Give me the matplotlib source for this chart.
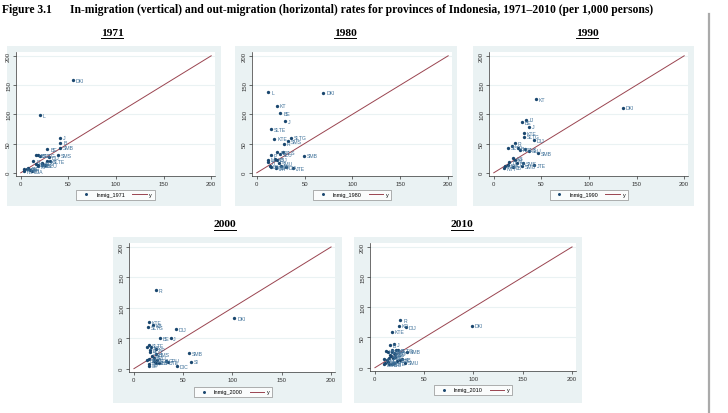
import matplotlib
matplotlib.use("Agg")
import matplotlib.pyplot as plt
from matplotlib.patches import Rectangle
from matplotlib.lines import Line2D

plt.rcParams['font.family'] = ['Liberation Sans', 'DejaVu Sans']

# ---------------- data (out-migration x, in-migration y, per 1,000) ----------------
years = ["1971", "1980", "1990", "2000", "2010"]

out_1971 = [54.9, 19.9, 41.6, 41.6, 41.6, 28.0, 39.5, 16.0, 17.8, 20.0, 30.0, 30.8, 13.3,
            15.7, 18.5, 22.0, 25.5, 17.8, 8.0, 7.0, 3.5, 3.1, 9.8, 11.5, 28.0, 22.5]
in_1971 = [159, 98.3, 60.2, 51.7, 43.2, 40.9, 30.1, 30.0, 30.0, 29.5, 26.7, 20.0, 19.3,
           14.8, 12.5, 13.6, 12.5, 10.8, 8.5, 6.8, 5.7, 2.8, 5.1, 3.4, 20.0, 16.0]
lab_1971 = ["DKI", "L", "J", "B", "SMB", "BE", "SMS", "KB", "KTE", "SLTG", "DIJ", "SLTE", "R",
            "SMU", "KS", "JB", "SLU", "M", "JTE", "BA", "NTB", "NTT", "JTI", "DIA", "KT", "SLS"]

out_1980 = [12.2, 69.7, 20.9, 24.7, 29.3, 15.0, 18.5, 35.5, 33.1, 28.2, 27.5, 21.6, 24.0, 14.6,
            49.1, 19.2, 20.9, 11.5, 12.2, 23.0, 13.6, 15.3, 20.6, 25.8, 30.7, 20.2, 38.0]
in_1980 = [138, 137, 114.8, 102.3, 88, 74.4, 58.5, 60.2, 54, 50, 35.8, 35.2, 32.4, 30.1,
           29.5, 23.3, 22.7, 22.7, 18.2, 17, 10.8, 10.2, 10.2, 10.8, 10.2, 7.4, 7.4]
lab_1980 = ["L", "DKI", "KT", "BE", "J", "SLTE", "KTE", "SLTG", "SMS", "R", "SLS", "KS", "SLU", "P",
            "SMB", "KB", "DIJ", "M", "TT", "SMU", "BA", "NTB", "NTT", "JB", "DIA", "JTI", "JTE"]

out_1990 = [44.6, 135.5, 34.1, 30.0, 37.3, 32.0, 32.0, 42.5, 22.3, 18.8, 14.6, 27.5, 32.8, 36.9,
            46.7, 20.6, 22.3, 16.4, 24.7, 31.0, 30.0, 42.5, 11.8, 11.1, 20.6, 15.3, 25.0]
in_1990 = [125.6, 111.4, 90.9, 86.4, 79.0, 67.6, 62.0, 56.3, 50.6, 46.6, 43.2, 39.8, 40.9, 38.0,
           34.1, 25.0, 22.2, 18.2, 16.5, 17.0, 11.9, 13.0, 11.9, 8.0, 10.2, 13.6, 42.0]
lab_1990 = ["KT", "DKI", "IJ", "BE", "J", "KTE", "SLTG", "DIJ", "R", "L", "SLTE", "KS", "SLS", "SLU",
            "SMB", "KB", "M", "TT", "BA", "SMS", "SMU", "JTE", "NTB", "NTT", "JB", "DIA", "B"]

out_2000 = [22.6, 102, 15.5, 14.2, 19.6, 42.6, 26, 37.2, 15.5, 13.5, 17.6, 15.9, 22, 16.2, 22.6,
            56, 57.8, 43.6, 20.3, 15.2, 12.8, 20.3, 22, 15.5, 15.5, 32.4, 34.1, 23.6, 18.0, 25.0]
in_2000 = [129.3, 83.4, 76.8, 68.5, 71.3, 64.6, 49.7, 49.7, 38.7, 35.9, 34.8, 30.4, 32.6, 27.6, 24.3,
           25.4, 11.6, 3.9, 18.2, 15.5, 13.8, 13.3, 9.9, 7.2, 5.0, 13.3, 11.0, 13.8, 20.0, 10.0]
lab_2000 = ["R", "DKI", "KTE", "SLTG", "KB", "DIJ", "BE", "J", "SLTE", "L", "KS", "B", "KP", "SLU", "BMS",
            "SMB", "SI", "DIC", "SLU", "G", "BA", "M", "SLS", "SU", "ST", "GPU", "JTE", "SLB", "MU", "NTT"]

out_2010 = [25.8, 24.7, 31.2, 17.3, 98.3, 19.0, 14.9, 11.2, 12.9, 16.9, 21.0, 23.7, 19.0, 32.5, 20.3,
            16.3, 14.2, 9.2, 12.2, 18.6, 22.4, 25.4, 10.2, 14.6, 17.0, 19.0, 30.2, 9.5, 15.0, 20.0,
            13.0, 27.0, 17.5]
in_2010 = [78.6, 69.6, 67.4, 59.6, 69.6, 38.4, 36.8, 27.9, 26.7, 29.0, 29.5, 29.0, 24.5, 26.7, 22.3,
           18.9, 16.7, 14.5, 12.3, 16.7, 11.7, 12.3, 7.8, 5.6, 5.6, 7.8, 8.4, 5.6, 20.5, 18.0,
           9.0, 14.0, 26.0]
lab_2010 = ["R", "KR", "DIJ", "KTE", "DKI", "J", "B", "KS", "SLTE", "L", "KB", "SLTG", "SLU", "SMB", "BA",
            "G", "SLS", "M", "MU", "IJ", "JB", "PB", "NTB", "NTT", "JTI", "JTE", "SMU", "DIA", "KP",
            "BT", "ST", "SB", "SMS"]

data = {
    "1971": (out_1971, in_1971, lab_1971),
    "1980": (out_1980, in_1980, lab_1980),
    "1990": (out_1990, in_1990, lab_1990),
    "2000": (out_2000, in_2000, lab_2000),
    "2010": (out_2010, in_2010, lab_2010),
}
diag = [0, 200]
xticks = [0, 50, 100, 150, 200]
yticks = [0, 50, 100, 150, 200]

# ---------------- layout (pixel boxes) ----------------
W, H = 728, 414
fig = plt.figure(figsize=(W / 100, H / 100), dpi=100)
fig.patch.set_facecolor("white")

def frac(x0, y0, x1, y1):
    return [x0 / W, 1 - y1 / H, (x1 - x0) / W, (y1 - y0) / H]

layout = {
    # outer bg box, plot box, title centre, legend centre
    "1971": ((7, 47, 221, 207), (16, 53, 215, 177), (112, 33), (115.5, 195.5)),
    "1980": ((235, 47, 457, 207), (252, 53, 452, 177), (345, 33), (352, 195.5)),
    "1990": ((473, 47, 694, 207), (489, 53, 688, 177), (587, 33), (588.7, 195.5)),
    "2000": ((113, 238, 342, 404), (129, 244, 335, 373), (225, 225), (233, 393)),
    "2010": ((354, 238, 582, 404), (370, 244, 576, 372), (462, 225), (473, 391)),
}

NAVY = "#1A476F"
MAROON = "#9A4450"
BG = "#EAF2F3"

title_texts = []
for yr in years:
    ob, pb, tc, lc = layout[yr]
    fig.add_artist(Rectangle((ob[0] / W, 1 - ob[3] / H), (ob[2] - ob[0]) / W, (ob[3] - ob[1]) / H,
                             transform=fig.transFigure, facecolor=BG, edgecolor="none", zorder=-10))
    ax = fig.add_axes(frac(*pb))
    ax.set_zorder(1)
    ax.set_facecolor("white")
    xs, ys, labs = data[yr]
    ax.set_xlim(-5, 204)
    ax.set_ylim(-5.5, 206.5)
    for g in [50, 100, 150, 200]:
        ax.axhline(g, color=BG, lw=0.8, zorder=0)
    ln, = ax.plot(diag, diag, color=MAROON, lw=0.7, zorder=2)
    mk, = ax.plot(xs, ys, "o", color=NAVY, ms=2.4, mec=NAVY, mew=0, lw=0, zorder=3)
    for x, y, t in zip(xs, ys, labs):
        ax.annotate(t, (x, y), xytext=(2.0, -0.2), textcoords="offset points",
                    fontsize=3.7, color="#40729A", va="center", ha="left", zorder=4)
    for s in ["top", "right"]:
        ax.spines[s].set_visible(False)
    for s in ["left", "bottom"]:
        ax.spines[s].set_color("#333333")
        ax.spines[s].set_linewidth(0.5)
    ax.set_xticks(xticks)
    ax.set_yticks(yticks)
    ax.set_yticklabels([str(v) for v in yticks], rotation=90, va="center")
    ax.tick_params(axis="both", labelsize=4.3, length=2, width=0.5, pad=1.5, colors="#333333")
    leg = ax.legend([mk, ln], ["Inmig_" + yr, "y"], ncol=2, loc="center",
                    bbox_to_anchor=(lc[0] / W, 1 - lc[1] / H), bbox_transform=fig.transFigure,
                    fontsize=4.0, frameon=True, fancybox=False, handlelength=2.6,
                    handletextpad=0.5, columnspacing=1.3, borderpad=0.45, markerscale=0.9)
    leg.get_frame().set_edgecolor("#777777")
    leg.get_frame().set_linewidth(0.5)
    t = fig.text(tc[0] / W, 1 - tc[1] / H, yr, ha="center", va="center", fontsize=8.2,
                 fontweight="bold", family="Liberation Serif")
    title_texts.append(t)

fig.text(2 / W, 1 - 10 / H, "Figure 3.1", ha="left", va="center", fontsize=8.4,
         fontweight="bold", family="Liberation Serif")
fig.text(70 / W, 1 - 10 / H,
         "In-migration (vertical) and out-migration (horizontal) rates for provinces of Indonesia, "
         "1971\u20132010 (per 1,000 persons)",
         ha="left", va="center", fontsize=8.4, fontweight="bold", family="Liberation Serif")

# right vertical rule
fig.add_artist(Line2D([709 / W, 709 / W], [0, 1 - 15 / H], transform=fig.transFigure,
                      color="#AAAAAA", lw=1.6))

# underline panel titles
fig.canvas.draw()
r = fig.canvas.get_renderer()
for t in title_texts:
    bb = t.get_window_extent(renderer=r)
    yline = bb.y0 - 1.0
    fig.add_artist(Line2D([bb.x0 / W, bb.x1 / W], [yline / H, yline / H], transform=fig.transFigure,
                          color="black", lw=0.7))

fig.savefig("out.png", dpi=100)
